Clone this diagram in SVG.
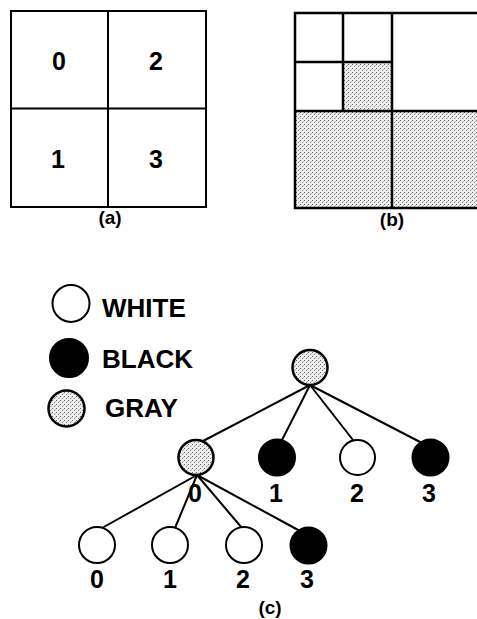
<svg xmlns="http://www.w3.org/2000/svg" width="477" height="619" viewBox="0 0 477 619">
<defs>
<pattern id="stipple" patternUnits="userSpaceOnUse" width="4" height="4">
<rect width="4" height="4" fill="#ededed"/>
<rect x="0" y="0" width="1" height="1" fill="#666"/>
<rect x="2" y="2" width="1" height="1" fill="#8a8a8a"/>
<rect x="3" y="1" width="1" height="1" fill="#bbb"/>
</pattern>
<style>
.ln{stroke:#000;stroke-width:2;fill:none}
.bd{stroke:#000;stroke-width:2.5;fill:none}
.t{font-family:"Liberation Sans",Arial,sans-serif;font-weight:bold;fill:#000}
.num{font-size:25px;text-anchor:middle}
.cap{font-size:19px;text-anchor:middle}
.leg{font-size:26px}
.white{fill:#fff;stroke:#000;stroke-width:2}
.black{fill:#000;stroke:#000;stroke-width:2}
.gray{fill:url(#stipple);stroke:#000;stroke-width:2.5}
</style>
</defs>
<rect width="477" height="619" fill="#fff"/>

<g id="panel-a">
<rect class="ln" x="11" y="11" width="195" height="196"/>
<line class="ln" x1="108" y1="11" x2="108" y2="207"/>
<line class="ln" x1="11" y1="108.5" x2="206" y2="108.5"/>
<text class="t num" x="59" y="70">0</text>
<text class="t num" x="156" y="70">2</text>
<text class="t num" x="58" y="168">1</text>
<text class="t num" x="156" y="168">3</text>
<text class="t cap" x="110" y="224">(a)</text>
</g>

<g id="panel-b">
<rect x="343" y="62" width="49" height="49" fill="url(#stipple)"/>
<rect x="295" y="111" width="190" height="97" fill="url(#stipple)"/>
<rect class="bd" x="295" y="13" width="195" height="195"/>
<line class="bd" x1="343" y1="13" x2="343" y2="111"/>
<line class="bd" x1="392" y1="13" x2="392" y2="208"/>
<line class="bd" x1="295" y1="62" x2="392" y2="62"/>
<line class="bd" x1="295" y1="111" x2="490" y2="111"/>
<text class="t cap" x="392" y="226">(b)</text>
</g>

<g id="legend">
<g id="legend-white"><circle class="white" cx="71" cy="303.5" r="18.5"/><text class="t leg" x="102" y="317">WHITE</text></g>
<g id="legend-black"><circle class="black" cx="69" cy="358" r="19"/><text class="t leg" x="102" y="368">BLACK</text></g>
<g id="legend-gray"><circle class="gray" cx="66.5" cy="408.5" r="18"/><text class="t leg" x="105" y="417">GRAY</text></g>
</g>

<g id="connectors">
<line class="ln" x1="310" y1="385" x2="203" y2="441"/>
<line class="ln" x1="310" y1="385" x2="282" y2="440"/>
<line class="ln" x1="310" y1="385" x2="353" y2="440"/>
<line class="ln" x1="310" y1="385" x2="422" y2="443"/>
<line class="ln" x1="197" y1="475" x2="102" y2="528"/>
<line class="ln" x1="197" y1="475" x2="175" y2="528"/>
<line class="ln" x1="197" y1="475" x2="242" y2="528"/>
<line class="ln" x1="197" y1="475" x2="300" y2="531"/>
</g>

<g id="root"><circle class="gray" cx="310" cy="367.5" r="17.5"/></g>
<g id="n0"><circle class="gray" cx="196" cy="457.5" r="17.5"/><text class="t num" x="195" y="502">0</text></g>
<g id="n1"><circle class="black" cx="277" cy="457.5" r="18"/><text class="t num" x="276" y="502">1</text></g>
<g id="n2"><circle class="white" cx="357.5" cy="457.5" r="17.5"/><text class="t num" x="357" y="502">2</text></g>
<g id="n3"><circle class="black" cx="430.5" cy="457.5" r="18"/><text class="t num" x="429" y="502">3</text></g>
<g id="n00"><circle class="white" cx="97" cy="545" r="18"/><text class="t num" x="97" y="588">0</text></g>
<g id="n01"><circle class="white" cx="170" cy="545" r="18"/><text class="t num" x="170" y="588">1</text></g>
<g id="n02"><circle class="white" cx="244" cy="545" r="18"/><text class="t num" x="243" y="588">2</text></g>
<g id="n03"><circle class="black" cx="308.5" cy="545.5" r="18"/><text class="t num" x="307" y="588">3</text></g>
<g id="caption-c"><text class="t cap" x="270" y="614">(c)</text></g>
</svg>
